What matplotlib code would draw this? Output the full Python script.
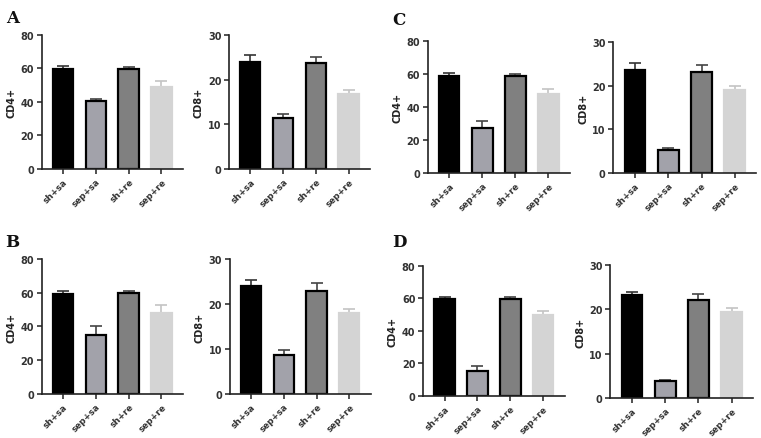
import matplotlib
matplotlib.use("Agg")
import matplotlib.pyplot as plt
import numpy as np

groups = ["sh+sa", "sep+sa", "sh+re", "sep+re"]

A_cd4 = [59.5, 40.5, 59.5, 49.0]
A_cd4_err = [2.0, 1.5, 1.5, 3.5]
A_cd8 = [24.0, 11.5, 23.7, 16.8]
A_cd8_err = [1.5, 0.8, 1.3, 0.9]

B_cd4 = [59.5, 35.0, 60.0, 48.0]
B_cd4_err = [1.5, 5.0, 1.2, 5.0]
B_cd8 = [24.0, 8.7, 22.8, 18.0]
B_cd8_err = [1.3, 1.0, 1.8, 0.8]

C_cd4 = [59.0, 27.5, 59.0, 48.0]
C_cd4_err = [1.5, 4.0, 1.2, 3.0]
C_cd8 = [23.5, 5.3, 23.2, 18.9]
C_cd8_err = [1.7, 0.5, 1.5, 1.0]

D_cd4 = [59.5, 15.0, 59.5, 49.5]
D_cd4_err = [1.3, 3.5, 1.2, 3.0]
D_cd8 = [23.2, 3.8, 22.2, 19.3]
D_cd8_err = [0.8, 0.3, 1.3, 0.9]

face = ["#000000", "#a2a2aa", "#808080", "#d4d4d4"]
edge = ["#000000", "#000000", "#000000", "#d4d4d4"]
errc = ["#333333", "#444444", "#444444", "#c4c4c4"]

plt.rcParams['font.family'] = ['DejaVu Sans']

fig = plt.figure(figsize=(7.61, 4.39), dpi=100)

def panel(rect, vals, errs, ylabel, ymax, step):
    ax = fig.add_axes(rect)
    x = np.arange(len(groups))
    ax.bar(x, vals, width=0.62, color=face, edgecolor=edge, linewidth=1.6, zorder=2)
    for i in range(len(groups)):
        ax.errorbar(x[i], vals[i], yerr=[[0], [errs[i]]], fmt='none',
                    ecolor=errc[i], elinewidth=1.2, capsize=4, capthick=1.2, zorder=1)
    ax.set_xlim(-0.65, 3.65)
    ax.set_ylim(0, ymax)
    ax.set_yticks(np.arange(0, ymax + 0.1, step))
    ax.set_xticks(x)
    ax.set_xticklabels(groups, rotation=45, ha='right', rotation_mode='anchor',
                       fontsize=6.3, fontweight='bold', color='#333333')
    for t in ax.get_yticklabels():
        t.set_fontsize(7)
        t.set_fontweight('bold')
        t.set_color('#333333')
    ax.set_ylabel(ylabel, fontsize=7, fontweight='bold', color='#222222', labelpad=3)
    for s in ['top', 'right']:
        ax.spines[s].set_visible(False)
    for s in ['left', 'bottom']:
        ax.spines[s].set_linewidth(1.2)
        ax.spines[s].set_color('#222222')
    ax.tick_params(axis='both', length=3.5, width=1.1, color='#222222', pad=2)
    return ax

panel([0.055, 0.613, 0.185, 0.305], A_cd4, A_cd4_err, "CD4+", 80, 20)
panel([0.301, 0.613, 0.185, 0.305], A_cd8, A_cd8_err, "CD8+", 30, 10)
panel([0.562, 0.604, 0.187, 0.300], C_cd4, C_cd4_err, "CD4+", 80, 20)
panel([0.806, 0.604, 0.188, 0.298], C_cd8, C_cd8_err, "CD8+", 30, 10)
panel([0.055, 0.100, 0.185, 0.308], B_cd4, B_cd4_err, "CD4+", 80, 20)
panel([0.302, 0.100, 0.185, 0.308], B_cd8, B_cd8_err, "CD8+", 30, 10)
panel([0.556, 0.096, 0.186, 0.296], D_cd4, D_cd4_err, "CD4+", 80, 20)
panel([0.802, 0.091, 0.188, 0.303], D_cd8, D_cd8_err, "CD8+", 30, 10)

for lbl, (xx, yy) in {"A": (0.008, 0.978), "C": (0.516, 0.972),
                      "B": (0.007, 0.468), "D": (0.516, 0.466)}.items():
    fig.text(xx, yy, lbl, fontsize=12, fontweight='bold', family=['DejaVu Serif'],
             va='top', ha='left', color='#111111')

fig.savefig("out.png", dpi=100)
